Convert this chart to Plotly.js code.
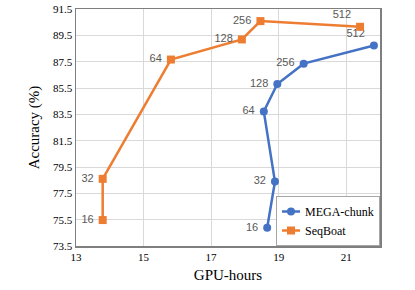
<!DOCTYPE html>
<html><head><meta charset="utf-8">
<script src="https://cdn.plot.ly/plotly-3.0.1.min.js"></script>
<style>body{margin:0;background:#fff}#c{width:415px;height:290px}</style>
</head><body><div id="c"></div>
<script>
const megaLabels = ["16","32","64","128","256","512"];
const megaX = [18.66, 18.89, 18.56, 18.96, 19.74, 21.82];
const megaY = [74.88, 78.39, 83.71, 85.80, 87.35, 88.73];
const seqLabels = ["16","32","64","128","256","512"];
const seqX = [13.79, 13.79, 15.81, 17.91, 18.46, 21.41];
const seqY = [75.47, 78.60, 87.66, 89.19, 90.58, 90.15];
const xTicks = [13, 15, 17, 19, 21];
const yTicks = [73.5, 75.5, 77.5, 79.5, 81.5, 83.5, 85.5, 87.5, 89.5, 91.5];

const lblFont = {family: "Liberation Sans, Arial, sans-serif", size: 11, color: "#595959"};
const pos = ["middle left","middle left","middle left","middle left","middle left","top left"];
const traces = [
  {x: megaX, y: megaY, text: megaLabels, name: "MEGA-chunk", mode: "lines+markers+text",
   textposition: pos, texttemplate: "%{text} ",
   textfont: lblFont, cliponaxis: false,
   line: {color: "#4472C4", width: 2.5}, marker: {color: "#4472C4", size: 8, symbol: "circle"}},
  {x: seqX, y: seqY, text: seqLabels, name: "SeqBoat", mode: "lines+markers+text",
   textposition: pos, texttemplate: "%{text} ",
   textfont: lblFont, cliponaxis: false,
   line: {color: "#ED7D31", width: 2.5}, marker: {color: "#ED7D31", size: 8, symbol: "square"}}
];
const serif = "Liberation Serif, Times New Roman, serif";
const layout = {
  width: 415, height: 290,
  margin: {l: 76, r: 35, t: 9, b: 44},
  paper_bgcolor: "#fff", plot_bgcolor: "#fff",
  font: {family: serif, color: "#000"},
  showlegend: true,
  legend: {x: 1, y: 0, xanchor: "right", yanchor: "bottom",
    bordercolor: "#a6a6a6", borderwidth: 1, bgcolor: "#fff",
    font: {family: serif, size: 12, color: "#000"}, tracegroupgap: 0, itemwidth: 30},
  xaxis: {range: [13, 22], tickvals: xTicks, ticktext: xTicks.map(String),
    showgrid: true, gridcolor: "#d9d9d9", gridwidth: 1,
    showline: true, linecolor: "#7f7f7f", linewidth: 1.5, mirror: true,
    zeroline: false, ticks: "", tickfont: {family: serif, size: 11},
    title: {text: "GPU-hours", font: {family: serif, size: 15}, standoff: 8}},
  yaxis: {range: [73.5, 91.5], tickvals: yTicks, ticktext: yTicks.map(v => v.toFixed(1)),
    showgrid: true, gridcolor: "#d9d9d9", gridwidth: 1,
    showline: true, linecolor: "#7f7f7f", linewidth: 1.5, mirror: true,
    zeroline: false, ticks: "", tickfont: {family: serif, size: 11},
    title: {text: "Accuracy (%)", font: {family: serif, size: 15}, standoff: 10}}
};
Plotly.newPlot("c", traces, layout, {displayModeBar: false, staticPlot: true}).then(gd => {
  // compact the legend symbols (shorter sample lines, like the reference)
  const shrink = 12;
  const leg = gd.querySelector("g.legend");
  if (!leg) return;
  leg.querySelectorAll("g.traces").forEach(tr => {
    tr.querySelectorAll("g.legendlines path").forEach(p => p.setAttribute("d", "M5,0h18"));
    tr.querySelectorAll("g.legendpoints path").forEach(p => {
      const t = p.getAttribute("transform") || "";
      p.setAttribute("transform", t.replace(/translate\(\s*20/, "translate(14"));
    });
    tr.querySelectorAll("text.legendtext").forEach(t => {
      t.setAttribute("x", String(parseFloat(t.getAttribute("x")) - shrink));
    });
  });
  leg.querySelectorAll("rect.bg").forEach(r => {
    r.setAttribute("width", String(parseFloat(r.getAttribute("width")) - shrink));
  });
  const m = /translate\(\s*([-\d.]+)[ ,]+([-\d.]+)\s*\)/.exec(leg.getAttribute("transform") || "");
  if (m) leg.setAttribute("transform", `translate(${parseFloat(m[1]) + shrink},${m[2]})`);
});
</script></body></html>
